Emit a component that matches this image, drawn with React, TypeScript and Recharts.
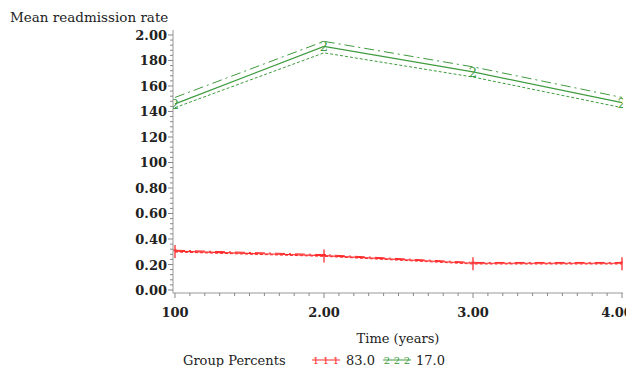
import React from 'react';
import { LineChart, Line, XAxis, YAxis, Legend } from 'recharts';

const timePoints = [1, 2, 3, 4];
const xTickLabels = ['100', '2.00', '3.00', '4.00'];
const yTickLabels = ['0.00', '0.20', '0.40', '0.60', '0.80', '100', '120', '140', '160', '180', '2.00'];

const greenMean = [1.46, 1.91, 1.71, 1.47];
const greenUpper = [1.51, 1.95, 1.75, 1.51];
const greenLower = [1.43, 1.86, 1.67, 1.43];
const redMean = [0.305, 0.27, 0.21, 0.21];
const redUpper = [0.312, 0.277, 0.216, 0.216];
const redLower = [0.298, 0.264, 0.204, 0.204];

const groupLabels = ['83.0', '17.0'];

const RED = '#ff2a2a';
const GREEN = '#3f9b3f';
const FONT = '"DejaVu Serif", serif';

const data = timePoints.map((t, i) => ({
  t,
  gm: greenMean[i],
  gu: greenUpper[i],
  gl: greenLower[i],
  rm: redMean[i],
  ru: redUpper[i],
  rl: redLower[i],
}));

const yTicks: number[] = [];
for (let i = 0; i <= 50; i++) yTicks.push(i * 0.04);
const xTicks: number[] = [];
for (let i = 0; i <= 30; i++) xTicks.push(1 + i * 0.1);

const YTick = (props: any) => {
  const { x, y, payload } = props;
  const v = payload.value;
  const k = Math.round(v * 100);
  const major = k % 20 === 0;
  return (
    <g>
      <line x1={x} x2={x - (major ? 5 : 3)} y1={y} y2={y} stroke="#888" strokeWidth={1} />
      {major && (
        <text x={x - 6} y={y} dy={5} textAnchor="end" fontFamily={FONT} fontWeight="bold" fontSize={13} fill="#222">
          {yTickLabels[Math.round(v * 5)]}
        </text>
      )}
    </g>
  );
};

const XTick = (props: any) => {
  const { x, y, payload } = props;
  const v = payload.value;
  const k = Math.round(v * 10);
  const major = k % 10 === 0;
  const idx = Math.round(v) - 1;
  const isLast = idx === xTickLabels.length - 1;
  return (
    <g>
      <line x1={x} x2={x} y1={y} y2={y + (major ? 5 : 3)} stroke="#888" strokeWidth={1} />
      {major && (
        <text x={isLast ? x - 5 : x} y={y} dy={24} textAnchor="middle" fontFamily={FONT} fontWeight="bold" fontSize={13} fill="#222">
          {xTickLabels[idx]}
        </text>
      )}
    </g>
  );
};

const GreenDot = (props: any) => {
  const { cx, cy, index } = props;
  return (
    <text key={'g' + index} x={cx} y={cy} dy={5} textAnchor="middle" fontFamily={FONT} fontSize={13} fill={GREEN}>
      2
    </text>
  );
};

const RedDot = (props: any) => {
  const { cx, cy, index } = props;
  return (
    <g key={'r' + index}>
      <line x1={cx} x2={cx} y1={cy - 6} y2={cy + 7} stroke={RED} strokeWidth={1.3} />
      <line x1={cx - 2} x2={cx + 2} y1={cy - 1} y2={cy - 1} stroke={RED} strokeWidth={1} />
    </g>
  );
};

const LegendContent = () => {
  const sym = (x0: number, color: string, ch: string) => (
    <g>
      <line x1={x0} x2={x0 + 28} y1={10} y2={10} stroke={color} strokeWidth={1} />
      {[4, 14, 24].map((d) => (
        <text key={d} x={x0 + d} y={14} textAnchor="middle" fontFamily={FONT} fontSize={10} fill={color}>
          {ch}
        </text>
      ))}
    </g>
  );
  return (
    <div style={{ position: 'relative', height: 0 }}>
      <svg width={634} height={22} style={{ position: 'absolute', left: 0, top: 0, display: 'block' }}>
        <text x={183} y={15} fontFamily={FONT} fontSize={13} fill="#222">Group Percents</text>
        {sym(312, RED, '1')}
        <text x={346} y={15} fontFamily={FONT} fontSize={13} fill="#222">{groupLabels[0]}</text>
        {sym(383, GREEN, '2')}
        <text x={416} y={15} fontFamily={FONT} fontSize={13} fill="#222">{groupLabels[1]}</text>
      </svg>
    </div>
  );
};

export default function App() {
  return (
    <div style={{ margin: -8, width: 634, height: 375, background: '#fff', position: 'relative' }}>
      <LineChart width={634} height={375} data={data} margin={{ top: 30, right: 11, bottom: 0, left: 0 }}>
        <XAxis
          dataKey="t"
          type="number"
          domain={[0.9866, 4.0067]}
          ticks={xTicks}
          interval={0}
          allowDataOverflow
          tickSize={0}
          tickMargin={0}
          tickLine={false}
          tick={<XTick />}
          axisLine={{ stroke: '#999' }}
          height={82}
          label={{
            content: (p: any) => (
              <text x={p.viewBox.x + p.viewBox.width / 2} y={343} textAnchor="middle" fontFamily={FONT} fontSize={13} fill="#222">
                Time (years)
              </text>
            ),
          }}
        />
        <XAxis xAxisId="top" orientation="top" dataKey="t" type="number" domain={[0.9866, 4.0067]} tick={false} tickLine={false} axisLine={{ stroke: '#c8c8c8' }} height={0} />
        <YAxis
          type="number"
          domain={[-0.0235, 2.039]}
          ticks={yTicks}
          interval={0}
          allowDataOverflow
          tickSize={0}
          tickMargin={0}
          tickLine={false}
          tick={<YTick />}
          axisLine={{ stroke: '#999' }}
          width={173}
          label={{
            content: () => (
              <text x={10} y={22} fontFamily={FONT} fontSize={13.5} fill="#222">
                Mean readmission rate
              </text>
            ),
          }}
        />
        <YAxis yAxisId="right" orientation="right" type="number" domain={[-0.0235, 2.039]} tick={false} tickLine={false} axisLine={{ stroke: '#c8c8c8' }} width={0} />
        <Legend verticalAlign="bottom" wrapperStyle={{ position: 'absolute', left: 0, top: 350, width: 634, height: 0 }} content={<LegendContent />} />
        <Line dataKey="gu" stroke={GREEN} strokeWidth={1} strokeDasharray="10 4 2 4" dot={false} isAnimationActive={false} />
        <Line dataKey="gl" stroke={GREEN} strokeWidth={1} strokeDasharray="3 2" dot={false} isAnimationActive={false} />
        <Line dataKey="gm" stroke={GREEN} strokeWidth={1.2} dot={<GreenDot />} isAnimationActive={false} />
        <Line dataKey="ru" stroke={RED} strokeWidth={1} strokeDasharray="10 4 2 4" dot={false} isAnimationActive={false} />
        <Line dataKey="rl" stroke={RED} strokeWidth={1} strokeDasharray="3 2" dot={false} isAnimationActive={false} />
        <Line dataKey="rm" stroke={RED} strokeWidth={1.2} dot={<RedDot />} isAnimationActive={false} />
      </LineChart>
    </div>
  );
}
